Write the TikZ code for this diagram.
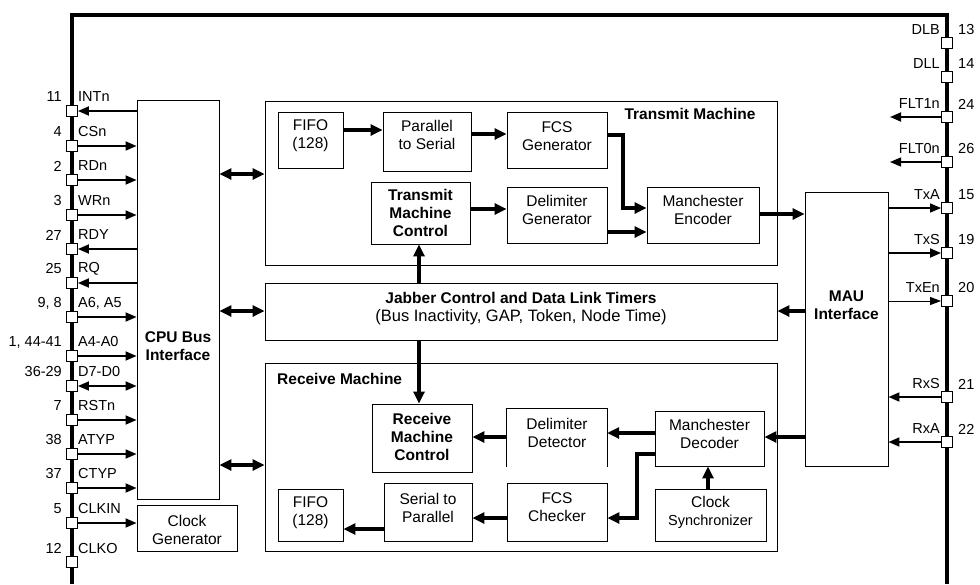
\documentclass[tikz,border=0pt]{standalone}
\usepackage{fontspec}
\setmainfont{Liberation Sans}
\usetikzlibrary{arrows.meta,fit}

% pin on the left edge of the chip: square, pin number, signal name
\newcommand{\westpin}[4]{%
  \node[pinsq] (#1) at (72,#2) {};
  \node[pinlbl, anchor=east] (#1num) at (62,#2-14) {#3};
  \node[pinlbl, anchor=west] (#1name) at (78,#2-14) {#4};}
% pin on the right edge of the chip
\newcommand{\eastpin}[4]{%
  \node[pinsq] (#1) at (947,#2) {};
  \node[pinlbl, anchor=west] (#1num) at (958,#2-13) {#3};
  \node[pinlbl, anchor=east] (#1name) at (940,#2-13) {#4};}

\begin{document}
\begin{tikzpicture}[x=1pt,y=-1pt,
  chip/.style={line width=3.8pt},
  blk/.style={draw, line width=0.9pt, inner sep=0pt},
  txt/.style={font=\fontsize{15.5}{18}\selectfont, align=center, inner sep=0pt},
  btxt/.style={font=\fontsize{15.5}{18}\selectfont\bfseries, align=center, inner sep=0pt},
  pinlbl/.style={font=\fontsize{14.5}{17}\selectfont, inner sep=0pt},
  pinsq/.style={draw, fill=white, line width=0.9pt, minimum size=11pt, inner sep=0pt},
  sig/.style={line width=1.8pt, -{Triangle[length=11pt,width=9pt]}},
  sigthin/.style={line width=0.9pt, -{Triangle[length=11pt,width=8pt]}},
  sigb/.style={line width=1.8pt, {Triangle[length=11pt,width=9pt]}-{Triangle[length=11pt,width=9pt]}},
  bus/.style={line width=3.4pt, -{Triangle[length=12pt,width=11pt]}},
  busb/.style={line width=3.4pt, {Triangle[length=12pt,width=11pt]}-{Triangle[length=12pt,width=11pt]}},
]
\useasboundingbox (0,0) rectangle (980,584);

% chip outline
\draw[chip] (72,584) -- (72,15) -- (947,15) -- (947,584);

% ---- blocks ----
\node[blk, fit={(137,100) (219,499)}] (cpu) {};
\node[btxt] (cput) at (178,346.5) {CPU Bus\\Interface};
\node[blk, fit={(137,505) (237,551)}] (clk) {};
\node[txt] (clkt) at (187,529.5) {Clock\\Generator};

% transmit machine
\node[blk, fit={(265,101) (777,265)}] (tm) {};
\node[btxt] (tmt) at (690,114) {Transmit Machine};
\node[blk, fit={(278,112) (343,168)}] (fifoT) {};
\node[txt] (fifoTt) at (310.5,135.5) {FIFO\\(128)};
\node[blk, fit={(383,112) (471,171)}] (p2s) {};
\node[txt] (p2st) at (427,135) {Parallel\\to Serial};
\node[blk, fit={(507,112) (607,168)}] (fcsG) {};
\node[txt] (fcsGt) at (557,136) {FCS\\Generator};
\node[blk, fit={(371,182) (470,244)}] (tmc) {};
\node[btxt] (tmct) at (420.5,213) {Transmit\\Machine\\Control};
\node[blk, fit={(507,187) (607,243)}] (delG) {};
\node[txt] (delGt) at (557,210) {Delimiter\\Generator};
\node[blk, fit={(647,187) (759,243)}] (menc) {};
\node[txt] (menct) at (703,210) {Manchester\\Encoder};

% MAU interface
\node[blk, fit={(805,192) (888,466)}] (mau) {};
\node[btxt] (maut) at (846.5,305) {MAU\\Interface};

% jabber control and timers
\node[blk, fit={(265,283) (777,340)}] (jab) {};
\node[btxt] (jabt1) at (521,298) {Jabber Control and Data Link Timers};
\node[font=\fontsize{16.5}{19}\selectfont, inner sep=0pt] (jabt2) at (521,317) {(Bus Inactivity, GAP, Token, Node Time)};

% receive machine
\node[blk, fit={(265,363) (777,551)}] (rm) {};
\node[btxt, anchor=west] (rmt) at (277,379) {Receive Machine};
\node[blk, fit={(372,404) (472,472)}] (rmc) {};
\node[btxt] (rmct) at (422,437) {Receive\\Machine\\Control};
\node[inner sep=0pt, fit={(507,409) (607,467)}] (delD) {};
\draw[line width=0.9pt] (delD.south west) -- (delD.north west) -- (delD.north east) -- (delD.south east);
\node[txt] (delDt) at (557,432.5) {Delimiter\\Detector};
\node[blk, fit={(655,411) (764,466)}] (mdec) {};
\node[txt] (mdect) at (709.5,433.5) {Manchester\\Decoder};
\node[blk, fit={(507,483) (607,541)}] (fcsC) {};
\node[txt] (fcsCt) at (557,507) {FCS\\Checker};
\node[blk, fit={(655,489) (766,541)}] (csyn) {};
\node[txt] (csynt) at (710.5,512.5) {Clock\\{\fontsize{14.5}{18}\selectfont Synchronizer}};
\node[blk, fit={(384,483) (472,541)}] (s2p) {};
\node[txt] (s2pt) at (428,508) {Serial to\\Parallel};
\node[blk, fit={(278,489) (343,541)}] (fifoR) {};
\node[txt] (fifoRt) at (310.5,513) {FIFO\\(128)};

% ---- internal data paths ----
\draw[busb] (cpu.east |- 0,174) -- (tm.west |- 0,174);
\draw[busb] (cpu.east |- 0,311) -- (jab.west |- 0,311);
\draw[busb] (cpu.east |- 0,465) -- (rm.west |- 0,465);

\draw[bus] (fifoT.east |- 0,130) -- (p2s.west |- 0,130);
\draw[bus] (p2s.east |- 0,134) -- (fcsG.west |- 0,134);
\draw[bus] (tmc.east |- 0,209) -- (delG.west |- 0,209);
\draw[bus] (fcsG.east |- 0,135) -- (623,135) |- (menc.west |- 0,208);
\draw[bus] (delG.east |- 0,232) -- (menc.west |- 0,232);
\draw[bus] (menc.east |- 0,214) -- (mau.west |- 0,214);

\draw[bus] (jab.north -| 419,0) -- (tmc.south -| 419,0);
\draw[bus] (jab.south -| 419,0) -- (rmc.north -| 419,0);
\draw[bus] (mau.west |- 0,311) -- (jab.east |- 0,311);

\draw[bus] (mau.west |- 0,437) -- (mdec.east |- 0,437);
\draw[bus] (mdec.west |- 0,433) -- (delD.east |- 0,433);
\draw[bus] (delD.west |- 0,437) -- (rmc.east |- 0,437);
\draw[bus] (mdec.west |- 0,454) -- (637,454) |- (fcsC.east |- 0,518);
\draw[bus] (csyn.north -| 708,0) -- (mdec.south -| 708,0);
\draw[bus] (fcsC.west |- 0,518) -- (s2p.east |- 0,518);
\draw[bus] (s2p.west |- 0,529) -- (fifoR.east |- 0,529);

% ---- left pins ----
\westpin{pINT}{111}{11}{INTn}
\westpin{pCS}{146}{4}{CSn}
\westpin{pRD}{180}{2}{RDn}
\westpin{pWR}{215}{3}{WRn}
\westpin{pRDY}{249}{27}{RDY}
\westpin{pRQ}{283}{25}{RQ}
\westpin{pAH}{317}{9, 8}{A6, A5}
\westpin{pAL}{356}{1, 44-41}{A4-A0}
\westpin{pD}{386}{36-29}{D7-D0}
\westpin{pRST}{420}{7}{RSTn}
\westpin{pATYP}{454}{38}{ATYP}
\westpin{pCTYP}{488}{37}{CTYP}
\westpin{pCLKIN}{523}{5}{CLKIN}
\westpin{pCLKO}{562}{12}{CLKO}

\draw[sig] (cpu.west |- pINT) -- (pINT.east);
\draw[sig] (pCS.east) -- (cpu.west |- pCS);
\draw[sig] (pRD.east) -- (cpu.west |- pRD);
\draw[sig] (pWR.east) -- (cpu.west |- pWR);
\draw[sig] (cpu.west |- pRDY) -- (pRDY.east);
\draw[sig] (cpu.west |- pRQ) -- (pRQ.east);
\draw[sig] (pAH.east) -- (cpu.west |- pAH);
\draw[sig] (pAL.east) -- (cpu.west |- pAL);
\draw[sigb] (pD.east) -- (cpu.west |- pD);
\draw[sig] (pRST.east) -- (cpu.west |- pRST);
\draw[sig] (pATYP.east) -- (cpu.west |- pATYP);
\draw[sig] (pCTYP.east) -- (cpu.west |- pCTYP);
\draw[sig] (pCLKIN.east) -- (clk.west |- pCLKIN);

% ---- right pins ----
\eastpin{pDLB}{43}{13}{DLB}
\eastpin{pDLL}{77}{14}{DLL}
\eastpin{pFLTa}{117}{24}{FLT1n}
\eastpin{pFLTb}{162}{26}{FLT0n}
\eastpin{pTxA}{208}{15}{TxA}
\eastpin{pTxS}{253}{19}{TxS}
\eastpin{pTxEn}{301}{20}{TxEn}
\eastpin{pRxS}{397}{21}{RxS}
\eastpin{pRxA}{442}{22}{RxA}

\coordinate (fltaEnd) at (890,117);
\coordinate (fltbEnd) at (890,162);
\draw[sig] (pFLTa.west) -- (fltaEnd);
\draw[sig, line width=1.4pt] (pFLTb.west) -- (fltbEnd);
\draw[sig, line width=1.4pt] (mau.east |- pTxA) -- (pTxA.west);
\draw[sig] (mau.east |- pTxS) -- (pTxS.west);
\draw[sigthin] (mau.east |- pTxEn) -- (pTxEn.west);
\draw[sig] (pRxS.west) -- (mau.east |- pRxS);
\draw[sig] (pRxA.west) -- (mau.east |- pRxA);
\end{tikzpicture}
\end{document}
